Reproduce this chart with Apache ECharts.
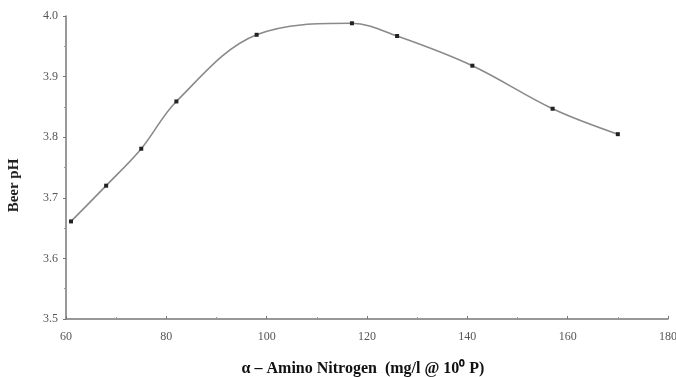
<!DOCTYPE html>
<html>
<head>
<meta charset="utf-8">
<script src="https://cdn.jsdelivr.net/npm/echarts@6/dist/echarts.min.js"></script>
<style>
  html, body { margin: 0; padding: 0; background: #fff; }
  #chart { width: 676px; height: 377px; }
</style>
</head>
<body>
<div id="chart"></div>
<script>
// amino nitrogen (mg/l) vs beer pH
const nitrogen = [61, 68, 75, 82, 98, 117, 126, 141, 157, 170]
const beerPH = [3.661, 3.72, 3.781, 3.859, 3.969, 3.988, 3.967, 3.918, 3.847, 3.805]

const chart = echarts.init(document.getElementById('chart'))

const serif = 'Liberation Serif'

const option = {
  animation: false,
  grid: { left: 66, right: 8, top: 16, bottom: 58, outerBoundsMode: 'none' },
  xAxis: {
    type: 'value',
    min: 60,
    max: 180,
    interval: 20,
    name: 'α – Amino Nitrogen  (mg/l @ 10⁰ P)',
    nameLocation: 'middle',
    nameGap: 42,
    nameTextStyle: { fontFamily: serif, fontSize: 16, fontWeight: 'bold', color: '#111', padding: [0, 8, 0, 0] },
    axisLine: { lineStyle: { color: '#777', width: 1.5 } },
    axisTick: { inside: true, length: 3, lineStyle: { color: '#777' } },
    minorTick: { show: true, splitNumber: 2, length: 2, lineStyle: { color: '#999' } },
    axisLabel: { fontFamily: serif, fontSize: 12, color: '#555', margin: 12 },
    splitLine: { show: false }
  },
  yAxis: {
    type: 'value',
    min: 3.5,
    max: 4.0,
    interval: 0.1,
    name: 'Beer pH',
    nameLocation: 'middle',
    nameGap: 44,
    nameTextStyle: { fontFamily: serif, fontSize: 15, fontWeight: 'bold', color: '#222', padding: [0, 0, 0, -36] },
    axisLine: { show: true, lineStyle: { color: '#777', width: 1.5 } },
    axisTick: { show: true, length: 3, lineStyle: { color: '#777' } },
    minorTick: { show: true, splitNumber: 2, length: 2, lineStyle: { color: '#999' } },
    axisLabel: {
      fontFamily: serif, fontSize: 12, color: '#555', margin: 8,
      formatter: v => v.toFixed(1)
    },
    splitLine: { show: false }
  },
  series: [{
    type: 'line',
    data: nitrogen.map((x, i) => [x, beerPH[i]]),
    smooth: 0.35,
    symbol: 'rect',
    symbolSize: 4,
    itemStyle: { color: '#222' },
    lineStyle: { color: '#8a8a8a', width: 1.6 }
  }]
}

chart.setOption(option)
</script>
</body>
</html>
